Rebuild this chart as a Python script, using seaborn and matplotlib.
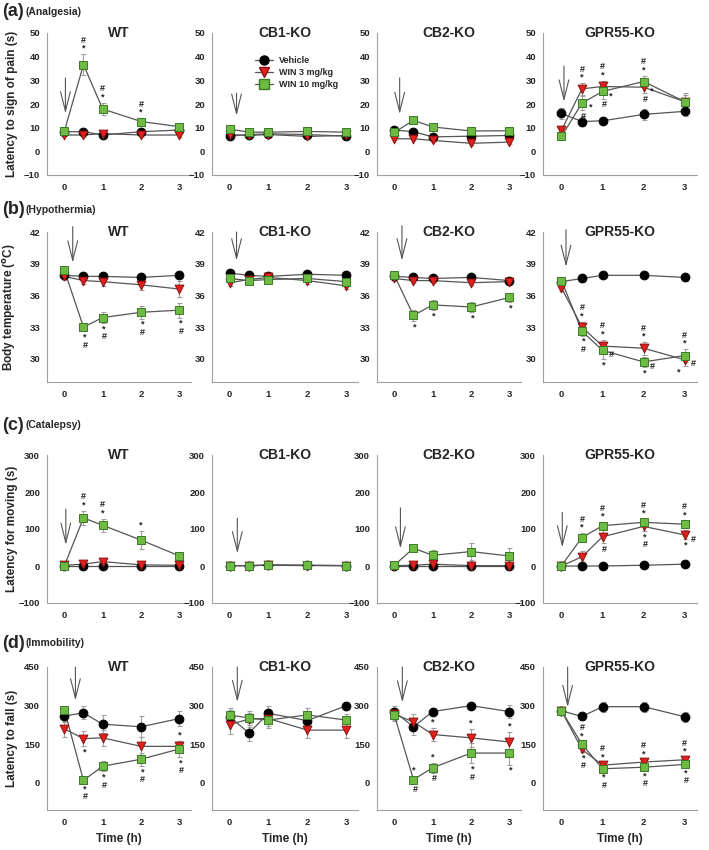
import pandas as pd
import seaborn as sns
import matplotlib.pyplot as plt
from matplotlib.lines import Line2D

sns.set_style("white")
plt.rcParams['font.family'] = ['Liberation Sans', 'DejaVu Sans']
plt.rcParams['font.weight'] = 'bold'
plt.rcParams['axes.labelweight'] = 'bold'

TIMES = [0, 0.5, 1, 2, 3]
GENOTYPES = ["WT", "CB1-KO", "CB2-KO", "GPR55-KO"]
TREATMENTS = ["Vehicle", "WIN 3 mg/kg", "WIN 10 mg/kg"]
TESTS = ["Analgesia", "Hypothermia", "Catalepsy", "Immobility"]
LETTERS = ["(a)", "(b)", "(c)", "(d)"]
YLABELS = ["Latency to sign of pain (s)", "Body temperature ($^{\\mathbf{o}}$C)",
           "Latency for moving (s)", "Latency to fall (s)"]

# means, one list per genotype (WT, CB1-KO, CB2-KO, GPR55-KO)
analgesia_veh = [[8.3, 8.3, 6.9, 8.3, 9.0], [6.4, 7.1, 7.4, 7.1, 6.4],
                 [9.0, 8.3, 6.1, 6.4, 6.7], [16.0, 12.6, 12.9, 15.6, 16.9]]
analgesia_w3 = [[6.9, 6.9, 7.5, 6.9, 6.9], [7.1, 6.7, 7.1, 6.3, 6.7],
                [5.3, 5.3, 4.6, 3.4, 3.9], [8.9, 26.4, 27.4, 27.1, 21.0]]
analgesia_w10 = [[8.4, 36.6, 17.9, 12.6, 10.4], [9.4, 8.1, 8.1, 8.4, 8.1],
                 [8.0, 13.1, 10.3, 8.6, 8.7], [6.3, 20.4, 25.3, 29.5, 21.0]]
analgesia_veh_err = [[1, 1, 1, 1, 1], [0.7, 0.7, 0.7, 0.7, 0.7],
                     [1, 1, 0.8, 0.8, 0.8], [2.5, 2, 1.5, 2.2, 1.8]]
analgesia_w3_err = [[0.6, 0.8, 0.8, 0.8, 0.8], [0.7, 0.7, 0.7, 0.7, 0.7],
                    [0.7, 0.7, 0.7, 0.7, 0.7], [2, 2.5, 2.5, 2.5, 3]]
analgesia_w10_err = [[1, 4.5, 2.7, 1.5, 1.2], [0.8, 0.8, 0.8, 0.8, 0.8],
                     [1, 1, 1, 0.8, 0.8], [1.5, 3, 3, 2.5, 3.5]]

hypo_veh = [[37.9, 37.8, 37.8, 37.7, 37.9], [38.1, 37.9, 37.8, 38.0, 37.9],
            [37.8, 37.7, 37.6, 37.7, 37.4], [37.3, 37.6, 37.9, 37.9, 37.7]]
hypo_w3 = [[37.8, 37.4, 37.3, 37.0, 36.6], [37.2, 37.5, 37.7, 37.4, 36.9],
           [37.6, 37.4, 37.4, 37.2, 37.3], [36.7, 33.0, 31.2, 31.0, 29.9]]
hypo_w10 = [[38.4, 33.0, 33.9, 34.4, 34.6], [37.6, 37.4, 37.5, 37.6, 37.3],
            [37.9, 34.1, 35.1, 34.9, 35.8], [37.4, 32.6, 30.8, 29.7, 30.3]]
hypo_veh_err = [[0.3, 0.3, 0.3, 0.3, 0.3], [0.3, 0.3, 0.3, 0.3, 0.3],
                [0.2, 0.2, 0.2, 0.2, 0.2], [0.3, 0.3, 0.3, 0.3, 0.3]]
hypo_w3_err = [[0.3, 0.3, 0.4, 0.5, 0.8], [0.3, 0.3, 0.3, 0.3, 0.3],
               [0.2, 0.2, 0.2, 0.2, 0.2], [0.3, 0.5, 0.6, 0.6, 0.6]]
hypo_w10_err = [[0.3, 0.4, 0.5, 0.6, 0.7], [0.3, 0.3, 0.3, 0.3, 0.3],
                [0.3, 0.5, 0.5, 0.5, 0.4], [0.3, 0.4, 0.8, 0.5, 0.6]]

catalepsy_veh = [[1, 1, 1, 1, 1], [1, 1, 3, 2, 1],
                 [1, 1, 1, 1, 1], [0, 0, 0, 2, 5]]
catalepsy_w3 = [[2, 5, 12, 3, 2], [1, 1, 2, 1, 1],
                [1, 2, 5, 1, 1], [0, 25, 79, 107, 84]]
catalepsy_w10 = [[0, 130, 110, 70, 27], [1, 1, 2, 2, 1],
                 [2, 48, 29, 39, 27], [1, 77, 109, 118, 113]]
catalepsy_veh_err = [[1, 1, 1, 1, 1], [2, 2, 2, 2, 2],
                     [1, 1, 1, 1, 1], [1, 1, 1, 2, 3]]
catalepsy_w3_err = [[1, 5, 10, 3, 3], [2, 2, 2, 2, 2],
                    [1, 2, 5, 2, 2], [1, 15, 18, 12, 12]]
catalepsy_w10_err = [[2, 20, 18, 25, 12], [2, 2, 2, 2, 2],
                     [3, 8, 15, 22, 22], [2, 12, 10, 8, 10]]

immob_veh = [[260, 272, 228, 218, 250], [257, 194, 270, 242, 300],
             [277, 218, 277, 300, 277], [280, 258, 296, 296, 257]]
immob_w3 = [[210, 172, 175, 142, 142], [226, 248, 250, 205, 205],
            [267, 237, 188, 175, 159], [280, 130, 69, 81, 90]]
immob_w10 = [[285, 10, 65, 92, 132], [264, 252, 244, 264, 244],
             [264, 13, 59, 116, 116], [280, 150, 55, 61, 72]]
immob_veh_err = [[25, 25, 35, 40, 30], [25, 30, 30, 30, 15],
                 [20, 30, 15, 10, 25], [10, 15, 20, 20, 20]]
immob_w3_err = [[30, 30, 30, 35, 20], [35, 30, 30, 30, 30],
                [25, 30, 25, 35, 40], [10, 10, 10, 10, 10]]
immob_w10_err = [[15, 10, 20, 25, 30], [25, 20, 30, 25, 25],
                 [20, 15, 20, 40, 45], [10, 10, 10, 10, 10]]

MEANS = [[analgesia_veh, analgesia_w3, analgesia_w10],
         [hypo_veh, hypo_w3, hypo_w10],
         [catalepsy_veh, catalepsy_w3, catalepsy_w10],
         [immob_veh, immob_w3, immob_w10]]
ERRS = [[analgesia_veh_err, analgesia_w3_err, analgesia_w10_err],
        [hypo_veh_err, hypo_w3_err, hypo_w10_err],
        [catalepsy_veh_err, catalepsy_w3_err, catalepsy_w10_err],
        [immob_veh_err, immob_w3_err, immob_w10_err]]

YLIMS = [(-10, 50), (27.8, 42), (-100, 300), (-105, 450)]
YTICKS = [[-10, 0, 10, 20, 30, 40, 50], [30, 33, 36, 39, 42],
          [-100, 0, 100, 200, 300], [0, 150, 300, 450]]

# injection arrows per panel: (x, top, tip)
ARROWS = [
    [(0.03, 31, 16), (0.18, 24.5, 15), (0.14, 31, 15.7), (0.06, 36, 21)],
    [(0.22, 42.5, 39.1), (0.18, 42, 39.3), (0.2, 42.6, 39.3), (0.11, 42.2, 38.7)],
    [(0.04, 154, 57), (0.2, 129, 34), (0.16, 157, 47), (0.02, 145, 50)],
    [(0.29, 450, 320), (0.2, 450, 314), (0.21, 450, 312), (0.15, 450, 294)],
]

# significance marks: (row, col, treatment index, time, text, placement)
SIGNIF = [
    (0, 0, 2, 0.5, "#\n*", "above"), (0, 0, 2, 1, "#\n*", "above"), (0, 0, 2, 2, "#\n*", "above"),
    (0, 3, 1, 0.5, "#\n*", "above"), (0, 3, 2, 0.5, "*", "right"), (0, 3, 2, 0.5, "#", "below"),
    (0, 3, 1, 1, "#\n*", "above"), (0, 3, 2, 1, "*", "right"), (0, 3, 2, 1, "#", "below"),
    (0, 3, 2, 2, "#\n*", "above"), (0, 3, 1, 2, "*", "right"), (0, 3, 1, 2, "#", "below"),
    (1, 0, 2, 0.5, "*\n#", "below"), (1, 0, 2, 1, "*\n#", "below"),
    (1, 0, 2, 2, "*\n#", "below"), (1, 0, 2, 3, "*\n#", "below"),
    (1, 2, 2, 0.5, "*", "below"), (1, 2, 2, 1, "*", "below"),
    (1, 2, 2, 2, "*", "below"), (1, 2, 2, 3, "*", "below"),
    (1, 3, 1, 0.5, "#\n*", "above"), (1, 3, 2, 0.5, "*\n#", "below"),
    (1, 3, 1, 1, "#\n*", "above"), (1, 3, 2, 1, "#", "right"), (1, 3, 2, 1, "*", "below"),
    (1, 3, 1, 2, "#\n*", "above"), (1, 3, 2, 2, "#", "right"), (1, 3, 2, 2, "*", "below"),
    (1, 3, 2, 3, "#\n*", "above"), (1, 3, 1, 3, "#", "right"), (1, 3, 1, 3, "*", "belowleft"),
    (2, 0, 2, 0.5, "#\n*", "above"), (2, 0, 2, 1, "#\n*", "above"), (2, 0, 2, 2, "*", "above"),
    (2, 3, 2, 0.5, "#\n*", "above"), (2, 3, 2, 1, "#\n*", "above"),
    (2, 3, 2, 2, "#\n*", "above"), (2, 3, 2, 3, "#\n*", "above"),
    (2, 3, 1, 1, "#", "below"), (2, 3, 1, 2, "*\n#", "below"),
    (2, 3, 1, 3, "#", "right"), (2, 3, 1, 3, "*", "below"),
    (3, 0, 1, 0.5, "*", "below"), (3, 0, 2, 0.5, "*\n#", "below"), (3, 0, 2, 1, "*\n#", "below"),
    (3, 0, 2, 2, "*\n#", "below"), (3, 0, 2, 3, "*\n#", "below"), (3, 0, 1, 3, "*", "above"),
    (3, 2, 1, 1, "*", "above"), (3, 2, 1, 2, "*", "above"), (3, 2, 1, 3, "*", "above"),
    (3, 2, 2, 0.5, "*", "above"), (3, 2, 2, 0.5, "#", "below"),
    (3, 2, 2, 1, "*", "above"), (3, 2, 2, 1, "#", "below"),
    (3, 2, 2, 2, "*\n#", "below"), (3, 2, 2, 3, "*", "below"),
    (3, 3, 2, 0.5, "#\n*", "above"), (3, 3, 1, 0.5, "*\n#", "below"),
    (3, 3, 1, 1, "#\n*", "above"), (3, 3, 2, 1, "*\n#", "below"),
    (3, 3, 1, 2, "#\n*", "above"), (3, 3, 2, 2, "*\n#", "below"),
    (3, 3, 1, 3, "#\n*", "above"), (3, 3, 2, 3, "*\n#", "below"),
]

MARKERS = ["o", "v", "s"]
FACE = ["#000000", "#e0201c", "#6dbb45"]
EDGE = ["#000000", "#8a1010", "#3d7a26"]
SIZES = [40, 40, 36]

rows = []
for r, test in enumerate(TESTS):
    for c, geno in enumerate(GENOTYPES):
        for t, treat in enumerate(TREATMENTS):
            for i, tm in enumerate(TIMES):
                rows.append({"test": test, "genotype": geno, "treatment": treat,
                             "time": tm, "mean": MEANS[r][t][c][i], "sem": ERRS[r][t][c][i]})
df = pd.DataFrame(rows)

W, H = 709, 850
fig = plt.figure(figsize=(W / 100, H / 100), dpi=100)

COL_X = [(47, 191), (212, 358), (377, 521), (543, 697)]
ROW_Y = [(33, 175), (232, 382), (455, 603), (667, 810)]
LETTER_Y = [12, 210, 425, 643]

axes = {}
for r, test in enumerate(TESTS):
    y0, y1 = ROW_Y[r]
    for c, geno in enumerate(GENOTYPES):
        x0, x1 = COL_X[c]
        ax = fig.add_axes([x0 / W, 1 - y1 / H, (x1 - x0) / W, (y1 - y0) / H])
        axes[(r, c)] = ax
        sub = df[(df.test == test) & (df.genotype == geno)]
        sns.lineplot(data=sub, x="time", y="mean", units="treatment", estimator=None,
                     color="#555555", lw=0.9, ax=ax, legend=False, zorder=2)
        for t, treat in enumerate(TREATMENTS):
            s = sub[sub.treatment == treat]
            ax.errorbar(s["time"], s["mean"], yerr=s["sem"], fmt="none", ecolor="#a0a0a0",
                        elinewidth=0.8, capsize=1.8, capthick=0.8, zorder=1)
            sns.scatterplot(data=s, x="time", y="mean", marker=MARKERS[t], color=FACE[t],
                            edgecolor=EDGE[t], s=SIZES[t], linewidth=0.7, ax=ax,
                            zorder=3 + t, legend=False)

        ax.set_xlim(-0.45, 3.3)
        ax.set_ylim(*YLIMS[r])
        ax.set_xticks([0, 1, 2, 3])
        ax.set_yticks(YTICKS[r])
        ax.tick_params(labelsize=6.8, length=2, width=0.6, color="#999999", pad=3)
        ax.tick_params(axis="x", pad=4)
        for lab in ax.get_xticklabels() + ax.get_yticklabels():
            lab.set_fontweight("bold")
        for side in ["top", "right"]:
            ax.spines[side].set_visible(False)
        for side in ["left", "bottom"]:
            ax.spines[side].set_color("#a0a0a0")
            ax.spines[side].set_linewidth(0.8)
        ax.set_xlabel("Time (h)" if r == 3 else "", fontsize=8.5, fontweight="bold", labelpad=4)
        if c == 0:
            ax.set_ylabel(YLABELS[r], fontsize=8.5, fontweight="bold")
            ax.yaxis.set_label_coords(-0.2, 0.5)
        else:
            ax.set_ylabel("")
        ax.text(0.5, 1.0, geno, transform=ax.transAxes, ha="center", va="center",
                fontsize=10, fontweight="bold")

        ax_x, top, tip = ARROWS[r][c]
        ax.annotate("", xy=(ax_x, tip), xytext=(ax_x, top), annotation_clip=False,
                    arrowprops=dict(arrowstyle="->,head_length=1.4,head_width=0.35",
                                    color="#555555", lw=0.8, shrinkA=0, shrinkB=0))

    fig.text(2 / W, 1 - LETTER_Y[r] / H, LETTERS[r], fontsize=13, fontweight="bold",
             ha="left", va="center")
    fig.text(25 / W, 1 - LETTER_Y[r] / H, f"({TESTS[r]})", fontsize=7.5, fontweight="bold",
             ha="left", va="center")

for r, c, t, tm, txt, where in SIGNIF:
    ax = axes[(r, c)]
    i = TIMES.index(tm)
    m = MEANS[r][t][c][i]
    e = ERRS[r][t][c][i]
    kw = dict(textcoords="offset points", fontsize=6.5, fontweight="bold",
              linespacing=0.85, ha="center", color="#222222", zorder=6)
    if where == "above":
        ax.annotate(txt, xy=(tm, m + e), xytext=(0, 1), va="bottom", **kw)
    elif where == "below":
        ax.annotate(txt, xy=(tm, m - e), xytext=(1, -1), va="top", **kw)
    elif where == "belowleft":
        ax.annotate(txt, xy=(tm, m - e), xytext=(-4, -1), va="top", **kw)
    else:
        ax.annotate(txt, xy=(tm, m), xytext=(6, -3), va="center", **kw)

handles = [Line2D([0], [0], color="#555555", lw=0.9, marker=MARKERS[t], markersize=6.5,
                  markerfacecolor=FACE[t], markeredgecolor=EDGE[t]) for t in range(3)]
axes[(0, 1)].legend(handles, TREATMENTS, loc="center left", bbox_to_anchor=(0.24, 0.72),
                    frameon=False, handlelength=2.0, labelspacing=0.35,
                    handletextpad=0.6, prop={"weight": "bold", "size": 6.5})

fig.savefig("out.png", dpi=100)
